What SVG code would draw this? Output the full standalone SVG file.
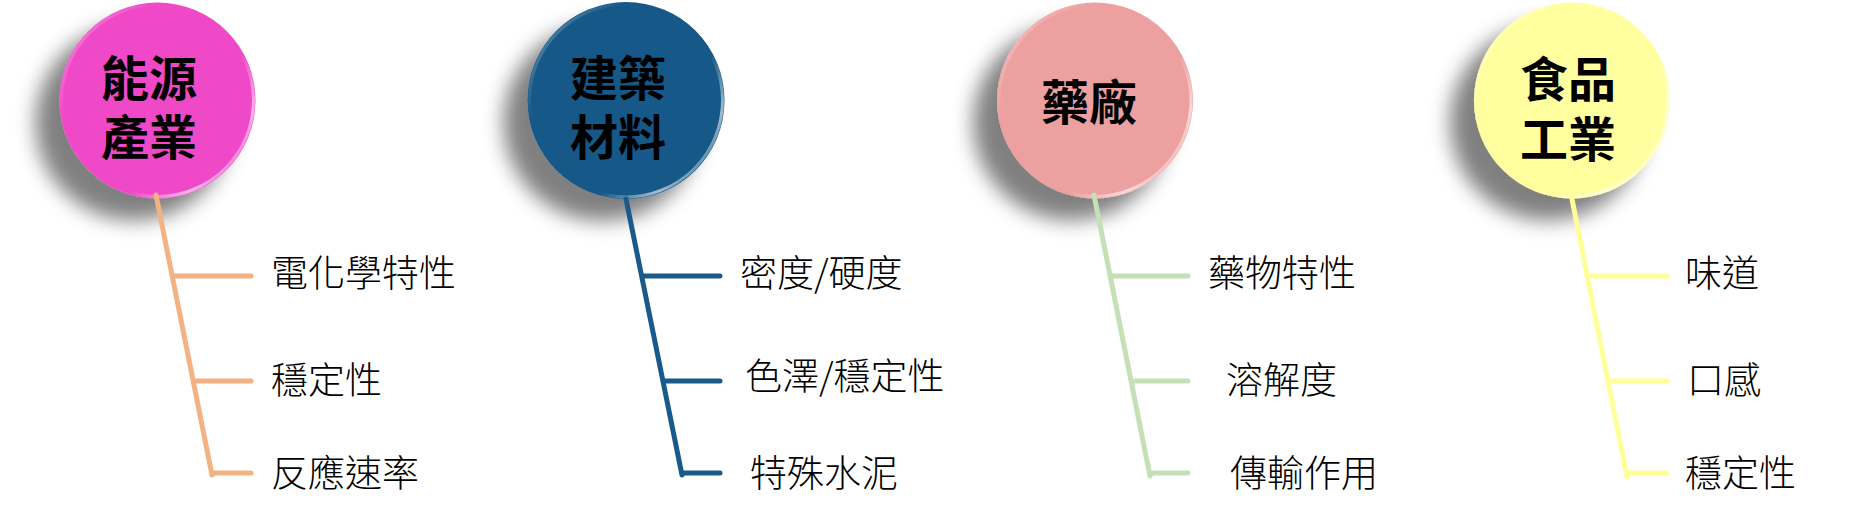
<svg xmlns="http://www.w3.org/2000/svg" width="1876" height="520" viewBox="0 0 1876 520">
<style>
.title{font-family:"Noto Sans CJK TC","Noto Sans CJK SC",sans-serif;font-weight:bold;font-size:48px;fill:#000}
.lbl{font-family:"Noto Sans CJK TC","Noto Sans CJK SC",sans-serif;font-weight:300;font-size:37px;fill:#000}
.rim{fill:none;stroke:url(#rim);stroke-width:3}
.c1{stroke:#F4B183}.c2{stroke:#1A5A8A}.c3{stroke:#C5E0B4}.c4{stroke:#FFFF99}
#connectors path{fill:none;stroke-width:5;stroke-linecap:round;stroke-linejoin:round}
</style>
<defs>
<filter id="sh" x="-60%" y="-60%" width="220%" height="220%">
<feGaussianBlur in="SourceAlpha" stdDeviation="10"/>
<feOffset dx="-24" dy="22" result="b"/>
<feComponentTransfer><feFuncA type="linear" slope="0.5"/></feComponentTransfer>
<feMerge><feMergeNode/><feMergeNode in="SourceGraphic"/></feMerge>
</filter>
<linearGradient id="rim" x1="0" y1="0" x2="1" y2="0.8">
<stop offset="0" stop-color="#fff" stop-opacity="0.4"/>
<stop offset="0.3" stop-color="#fff" stop-opacity="0"/>
<stop offset="0.7" stop-color="#fff" stop-opacity="0"/>
<stop offset="0.88" stop-color="#fff" stop-opacity="0.6"/>
<stop offset="1" stop-color="#fff" stop-opacity="0.15"/>
</linearGradient>
</defs>
<rect width="1876" height="520" fill="#fff"/>

<g id="node-energy">
<circle cx="157.5" cy="100.5" r="98" fill="#F04AC8" filter="url(#sh)"/>
<circle cx="157.5" cy="100.5" r="96" class="rim"/>
<text class="title"><tspan x="101" y="96">能源</tspan><tspan x="101" y="155">產業</tspan></text>
</g>
<g id="node-building">
<circle cx="626" cy="100.5" r="98.5" fill="#175888" filter="url(#sh)"/>
<circle cx="626" cy="100.5" r="96.5" class="rim"/>
<text class="title"><tspan x="570" y="96">建築</tspan><tspan x="570" y="155">材料</tspan></text>
</g>
<g id="node-pharma">
<circle cx="1095" cy="100.5" r="98" fill="#EDA0A0" filter="url(#sh)"/>
<circle cx="1095" cy="100.5" r="96" class="rim"/>
<text class="title" x="1041" y="120">藥廠</text>
</g>
<g id="node-food">
<circle cx="1572" cy="100.5" r="98" fill="#FFFF9F" filter="url(#sh)"/>
<circle cx="1572" cy="100.5" r="96" class="rim"/>
<text class="title"><tspan x="1520" y="97">食品</tspan><tspan x="1520" y="157">工業</tspan></text>
</g>

<g id="connectors">
<path class="c1" d="M156,195 L212,475 M173,276 H251 M193,381 H251 M212,473 H251"/>
<path class="c2" d="M626,199 L682,475 M643,276 H720 M663,381 H720 M682,473 H720"/>
<path class="c3" d="M1094,195 L1150,476 M1111,276 H1188 M1131,381 H1188 M1150,473 H1188"/>
<path class="c4" d="M1572,199 L1627,477 M1588,276 H1667 M1608,381 H1667 M1627,473 H1667"/>
</g>

<g id="label-e1"><text class="lbl" x="271" y="287">電化學特性</text></g>
<g id="label-e2"><text class="lbl" x="271" y="394">穩定性</text></g>
<g id="label-e3"><text class="lbl" x="271" y="487">反應速率</text></g>
<g id="label-b1"><text class="lbl" x="740" y="287">密度/硬度</text></g>
<g id="label-b2"><text class="lbl" x="745" y="390">色澤/穩定性</text></g>
<g id="label-b3"><text class="lbl" x="750" y="487">特殊水泥</text></g>
<g id="label-p1"><text class="lbl" x="1208" y="287">藥物特性</text></g>
<g id="label-p2"><text class="lbl" x="1226" y="394">溶解度</text></g>
<g id="label-p3"><text class="lbl" x="1230" y="487">傳輸作用</text></g>
<g id="label-f1"><text class="lbl" x="1685" y="287">味道</text></g>
<g id="label-f2"><text class="lbl" x="1687" y="394">口感</text></g>
<g id="label-f3"><text class="lbl" x="1685" y="487">穩定性</text></g>
</svg>
